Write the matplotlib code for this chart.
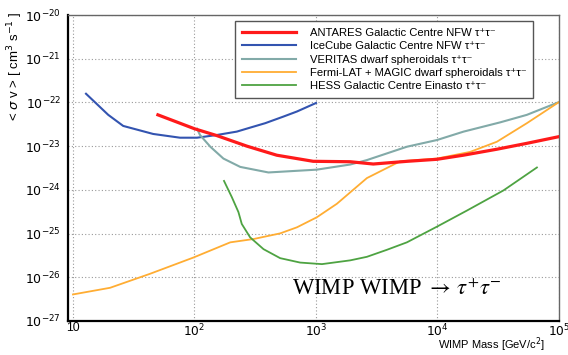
import matplotlib
matplotlib.use('Agg')
import matplotlib.pyplot as plt
import numpy as np

plt.rcParams['font.family'] = ['Liberation Sans', 'DejaVu Sans']

# ANTARES Galactic Centre NFW
antares_m = [50, 100, 153, 270, 476, 948, 1914, 2960, 5640, 9900, 16300, 30800, 54400, 1e5]
antares_sv = [5.2e-23, 2.5e-23, 1.74e-23, 1.0e-23, 6.2e-24, 4.5e-24, 4.4e-24, 3.9e-24,
              4.5e-24, 5.0e-24, 6.2e-24, 8.5e-24, 1.16e-23, 1.65e-23]

# IceCube Galactic Centre NFW
icecube_m = [12.8, 19.5, 25.9, 45.7, 76, 105, 153, 223, 287, 382, 540, 697, 1000]
icecube_sv = [1.58e-22, 5.2e-23, 2.9e-23, 1.9e-23, 1.56e-23, 1.56e-23, 1.8e-23, 2.15e-23,
              2.65e-23, 3.35e-23, 4.75e-23, 6.2e-23, 9.7e-23]

# VERITAS dwarf spheroidals
veritas_m = [105, 111, 135, 173, 238, 406, 1016, 1914, 2625, 5600, 9900, 16400, 32800, 54400, 1e5]
veritas_sv = [2.5e-23, 1.8e-23, 9.7e-24, 5.2e-24, 3.35e-24, 2.5e-24, 2.9e-24, 3.8e-24,
              4.8e-24, 9.7e-24, 1.38e-23, 2.15e-23, 3.5e-23, 5.2e-23, 1.02e-22]

# Fermi-LAT + MAGIC dwarf spheroidals
fermi_m = [10, 20.2, 43, 98, 197, 306, 507, 697, 1016, 1485, 2625, 4930, 9900, 18600,
           30800, 54400, 1e5]
fermi_sv = [4.05e-27, 5.75e-27, 1.2e-26, 2.83e-26, 6.3e-26, 7.5e-26, 1.01e-25, 1.39e-25,
            2.36e-25, 4.8e-25, 1.86e-24, 4.5e-24, 5.2e-24, 7.4e-24, 1.26e-23, 3.35e-23, 1.02e-22]

# HESS Galactic Centre Einasto
hess_m = [175, 203, 230, 245, 287, 370, 507, 741, 1120, 1914, 2625, 3840, 5600, 9900,
          17500, 34900, 65800]
hess_sv = [1.6e-24, 6.8e-25, 3.1e-25, 1.66e-25, 8.2e-26, 4.4e-26, 2.74e-26, 2.17e-26,
           2.0e-26, 2.44e-26, 2.94e-26, 4.26e-26, 6.3e-26, 1.44e-25, 3.37e-25, 9.7e-25, 3.25e-24]

tt = ' τ⁺τ⁻'
labels = ['ANTARES Galactic Centre NFW' + tt,
          'IceCube Galactic Centre NFW' + tt,
          'VERITAS dwarf spheroidals' + tt,
          'Fermi-LAT + MAGIC dwarf spheroidals' + tt,
          'HESS Galactic Centre Einasto' + tt]

fig = plt.figure(figsize=(5.68, 3.55), dpi=100)
ax = fig.add_axes([68 / 568, 34 / 355, 491 / 568, 306 / 355])

ax.plot(antares_m, antares_sv, color='#ff1a1a', lw=2.3, label=labels[0], zorder=5)
ax.plot(icecube_m, icecube_sv, color='#3354b0', lw=1.5, label=labels[1])
ax.plot(veritas_m, veritas_sv, color='#82aaa8', lw=1.5, label=labels[2])
ax.plot(fermi_m, fermi_sv, color='#ffad33', lw=1.3, label=labels[3])
ax.plot(hess_m, hess_sv, color='#4ea342', lw=1.3, label=labels[4])

ax.set_xscale('log')
ax.set_yscale('log')
ax.set_xlim(9.1, 1e5)
ax.set_ylim(1e-27, 1e-20)

ax.set_xticks([10, 1e2, 1e3, 1e4, 1e5])
ax.set_xticklabels(['10', r'$10^{2}$', r'$10^{3}$', r'$10^{4}$', r'$10^{5}$'])
ax.set_yticks([10.0 ** k for k in range(-27, -19)])
ax.set_yticklabels([r'$10^{%d}$' % k for k in range(-27, -19)])
ax.minorticks_off()
ax.tick_params(length=0, labelsize=9)
ax.tick_params(axis='x', pad=1, labelsize=8.8)
ax.tick_params(axis='y', pad=5)
ax.grid(True, which='major', ls=(0, (1, 2)), color='#999999', lw=0.8)

ax.spines['left'].set_linewidth(1.6)
ax.spines['bottom'].set_linewidth(1.6)
for s in ['top', 'right']:
    ax.spines[s].set_color('#666666')
    ax.spines[s].set_linewidth(1.0)

leg = ax.legend(loc='upper right', bbox_to_anchor=(0.948, 0.98), borderaxespad=0,
                fontsize=8.1, fancybox=False, handlelength=4.8, handletextpad=1.25,
                labelspacing=0.3, borderpad=0.6, framealpha=1)
leg.get_frame().set_edgecolor('#555555')
leg.get_frame().set_linewidth(1.0)

ax.text(0.456, 0.085, r'WIMP WIMP $\rightarrow\,\tau^{+}\tau^{-}$', transform=ax.transAxes,
        fontsize=16.3, family='Liberation Serif', math_fontfamily='stix', va='baseline')

fig.text(15 / 568, 1 - 66 / 355, r'< $\sigma$ v > [ cm$^{3}$ s$^{-1}$ ]', rotation=90,
         ha='center', va='center', fontsize=9.5)
fig.text(545 / 568, 1.5 / 355, r'WIMP Mass [GeV/c$^{2}$]', ha='right', va='bottom',
         fontsize=8.0)

fig.savefig('out.png', dpi=100)
